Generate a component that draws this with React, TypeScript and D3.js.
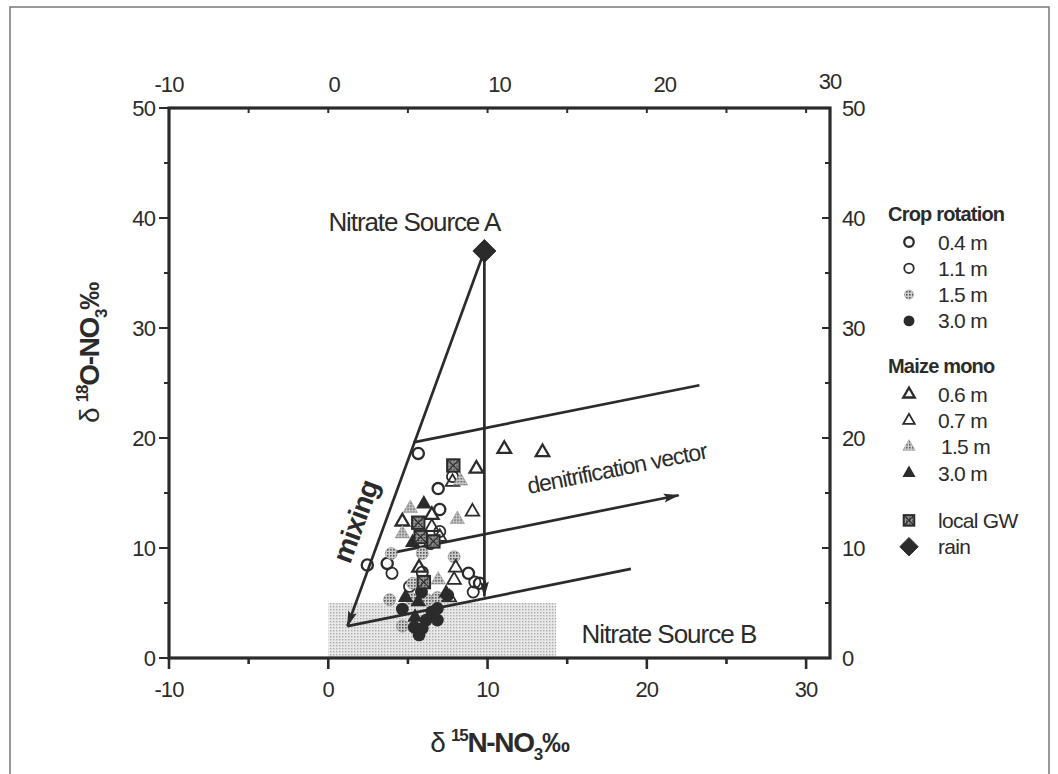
import React from 'react'
import * as d3 from 'd3'

const W = 1058
const H = 774
const INK = '#2b2b2b'
const FONT = '"Liberation Sans", Arial, sans-serif'

// axis ticks
const xBottomTicks = [-10, 0, 10, 20, 30]
const xBottomMinor = [-5, 5, 15, 25]
const xTopTicks = [-10, 0, 10, 20, 30]
const yTicks = [0, 10, 20, 30, 40, 50]
const yMinor = [5, 15, 25, 35, 45]

// samples: [d15N, d18O]
const crop04 = [[5.65, 18.6], [6.9, 15.4], [7.0, 13.5], [2.45, 8.45], [3.7, 8.6], [8.8, 7.7], [9.5, 6.8]]
const crop11 = [[7.8, 16.5], [7.0, 11.5], [6.4, 10.4], [4.0, 7.7], [5.9, 7.8], [5.1, 6.5], [9.2, 6.9], [9.1, 6.0]]
const crop15 = [[3.95, 9.5], [5.9, 9.5], [7.9, 9.2], [5.3, 6.8], [3.85, 5.3], [5.2, 5.4], [6.2, 5.3], [6.85, 5.5], [4.65, 2.9]]
const crop30 = [[5.85, 6.0], [4.65, 4.45], [7.5, 5.7], [6.5, 4.2], [6.85, 4.5], [6.15, 3.45], [6.85, 3.45], [5.4, 2.8], [5.9, 2.7], [5.7, 2.1]]
const maize06 = [[11.05, 19.0], [13.45, 18.7], [9.3, 17.2], [6.5, 13.0], [4.65, 12.4], [5.7, 8.2]]
const maize07 = [[7.8, 16.0], [6.5, 11.9], [9.05, 13.3], [8.0, 8.2], [7.9, 7.1], [7.6, 5.5], [7.0, 11.0]]
const maize15 = [[5.15, 13.6], [4.65, 11.3], [8.1, 12.6], [8.3, 16.1], [6.9, 7.1]]
const maize30 = [[6.0, 14.0], [5.3, 10.5], [4.85, 5.5], [5.65, 5.1], [5.45, 3.7], [7.4, 5.9]]
const localGW = [[7.85, 17.5], [5.65, 12.3], [5.8, 11.0], [6.6, 10.6], [6.0, 6.9]]
const rain = [[9.8, 37]]

// interpretation lines
const mixingLine = [[9.8, 37], [1.2, 2.9]]
const dropLine = [[9.8, 37], [9.8, 5.6]]
const upperLine = [[5.34, 19.6], [23.3, 24.8]]
const denitLine = [[4.15, 9.6], [22.0, 14.8]]
const lowerLine = [[1.2, 2.9], [19.0, 8.1]]
const sourceBBox = [[0, 0], [14.3, 5]]

const series = [
  { data: crop04, kind: 'circleBold' },
  { data: crop11, kind: 'circle' },
  { data: crop15, kind: 'circleDots' },
  { data: crop30, kind: 'circleFill' },
  { data: maize06, kind: 'triBold' },
  { data: maize07, kind: 'tri' },
  { data: maize15, kind: 'triDots' },
  { data: maize30, kind: 'triFill' },
  { data: localGW, kind: 'gw' },
  { data: rain, kind: 'diamond' },
]

const legendGroups = [
  { title: 'Crop rotation', items: [['circleBold', '0.4 m'], ['circle', '1.1 m'], ['circleDots', '1.5 m'], ['circleFill', '3.0 m']] },
  { title: 'Maize mono', items: [['triBold', '0.6 m'], ['tri', '0.7 m'], ['triDots', '1.5 m'], ['triFill', '3.0 m']] },
  { title: null, items: [['gw', 'local GW'], ['diamond', 'rain']] },
]

function triPath(s) {
  const h = s * 0.866
  return `M0,${-2 * h / 3}L${s / 2},${h / 3}L${-s / 2},${h / 3}Z`
}

function Mark({ kind, cx, cy, k = 1 }) {
  const t = `translate(${cx},${cy})`
  switch (kind) {
    case 'circleBold':
      return <circle cx={cx} cy={cy} r={5.6 * k} fill="none" stroke={INK} strokeWidth={2.3} />
    case 'circle':
      return <circle cx={cx} cy={cy} r={5.6 * k} fill="none" stroke={INK} strokeWidth={1.8} />
    case 'circleDots':
      return <circle cx={cx} cy={cy} r={6 * k} fill="url(#dots)" stroke="#888" strokeWidth={0.6} />
    case 'circleFill':
      return <circle cx={cx} cy={cy} r={6.4 * k} fill={INK} />
    case 'triBold':
      return <path transform={t} d={triPath(13.5 * k)} fill="none" stroke={INK} strokeWidth={2.3} />
    case 'tri':
      return <path transform={t} d={triPath(13.5 * k)} fill="none" stroke={INK} strokeWidth={1.8} />
    case 'triDots':
      return <path transform={t} d={triPath(14.5 * k)} fill="url(#dots)" stroke="#999" strokeWidth={0.6} />
    case 'triFill':
      return <path transform={t} d={triPath(15.5 * k)} fill={INK} />
    case 'gw': {
      const s = 6.2 * k
      return (
        <g transform={t}>
          <rect x={-s} y={-s} width={2 * s} height={2 * s} fill="url(#dotsDark)" stroke={INK} strokeWidth={2} />
          <path d={`M${-s},${-s}L${s},${s}M${s},${-s}L${-s},${s}`} stroke={INK} strokeWidth={1.2} />
        </g>
      )
    }
    case 'diamond': {
      const s = 11.5 * k
      return <path transform={t} d={`M0,${-s}L${s},0L0,${s}L${-s},0Z`} fill={INK} stroke={INK} strokeWidth={1} />
    }
    default:
      return null
  }
}

export default function App() {
  const x = d3.scaleLinear().domain([-10, 31.5]).range([169, 830])
  const xTop = d3.scaleLinear().domain([-10, 30]).range([169, 830])
  const y = d3.scaleLinear().domain([0, 50]).range([658, 108])
  const line = d3.line().x((d) => x(d[0])).y((d) => y(d[1]))

  const angleOf = (seg) =>
    (Math.atan2(y(seg[1][1]) - y(seg[0][1]), x(seg[1][0]) - x(seg[0][0])) * 180) / Math.PI
  const mixAngle = angleOf([mixingLine[1], mixingLine[0]])
  const denitAngle = angleOf(upperLine)

  const [x0, x1] = x.range()
  const [yb, yt] = y.range()

  const mixPos = [x(1.76), y(12.4)]
  const denitPos = [x(12.6), y(14.9)]

  const tick = { fontSize: 22, letterSpacing: -0.9, fill: INK }

  let ly = 221
  const legendRows = []
  legendGroups.forEach((g, gi) => {
    if (g.title) {
      legendRows.push(
        <text key={`t${gi}`} x={888} y={ly} fontSize={20} fontWeight="bold" letterSpacing={-0.8} fill={INK}>
          {g.title}
        </text>
      )
      ly += 21
    } else {
      ly -= 5
    }
    g.items.forEach(([kind, label], ii) => {
      legendRows.push(
        <g key={`i${gi}-${ii}`}>
          <Mark kind={kind} cx={909} cy={ly} k={kind === 'diamond' ? 0.8 : kind === 'circleDots' ? 0.75 : 0.85} />
          <text x={kind === 'triDots' ? 941 : 938} y={ly + 7.5} fontSize={21} letterSpacing={-0.7} fill={INK}>
            {label}
          </text>
        </g>
      )
      ly += 26.3
    })
    ly += 26
  })

  return (
    <svg
      width={W}
      height={H}
      style={{ position: 'absolute', left: 0, top: 0, background: '#fff', fontFamily: FONT }}
    >
      <defs>
        <pattern id="dots" width="3" height="3" patternUnits="userSpaceOnUse">
          <rect width="3" height="3" fill="#cfcfcf" />
          <rect width="1.6" height="1.6" fill="#555" />
        </pattern>
        <pattern id="dotsDark" width="3" height="3" patternUnits="userSpaceOnUse">
          <rect width="3" height="3" fill="#999" />
          <rect width="1.5" height="1.5" fill="#333" />
        </pattern>
        <pattern id="shade" width="3" height="3" patternUnits="userSpaceOnUse">
          <rect width="3" height="3" fill="#e8e8e8" />
          <rect width="1.4" height="1.4" fill="#adadad" />
        </pattern>
        <marker id="arrow" viewBox="0 0 16 10" refX="15" refY="5" markerWidth="16" markerHeight="10" markerUnits="userSpaceOnUse" orient="auto">
          <path d="M0,0.5L16,5L0,9.5L3,5Z" fill={INK} />
        </marker>
      </defs>

      <rect x={10} y={7} width={1039} height={800} fill="none" stroke="#777" strokeWidth={1.5} />

      {/* Nitrate source B field */}
      <rect
        x={x(sourceBBox[0][0])}
        y={y(sourceBBox[1][1])}
        width={x(sourceBBox[1][0]) - x(sourceBBox[0][0])}
        height={y(sourceBBox[0][1]) - y(sourceBBox[1][1])}
        fill="url(#shade)"
      />

      <g fill="none" stroke={INK} strokeWidth={2.7}>
        <path d={line(mixingLine)} markerEnd="url(#arrow)" />
        <path d={line(dropLine)} markerEnd="url(#arrow)" />
        <path d={line(upperLine)} />
        <path d={line(denitLine)} markerEnd="url(#arrow)" />
        <path d={line(lowerLine)} />
      </g>

      {series.map((s, si) =>
        s.data.map((d, i) => <Mark key={`${si}-${i}`} kind={s.kind} cx={x(d[0])} cy={y(d[1])} />)
      )}

      {/* frame */}
      <rect x={x0} y={yt} width={x1 - x0} height={yb - yt} fill="none" stroke={INK} strokeWidth={3.2} />

      {/* bottom axis */}
      {xBottomTicks.map((t) => (
        <g key={`xb${t}`}>
          <line x1={x(t)} x2={x(t)} y1={yb} y2={yb + 11} stroke={INK} strokeWidth={2.6} />
          <text x={x(t)} y={697} textAnchor="middle" {...tick}>
            {t}
          </text>
        </g>
      ))}
      {xBottomMinor.map((t) => (
        <line key={`xbm${t}`} x1={x(t)} x2={x(t)} y1={yb} y2={yb + 6} stroke={INK} strokeWidth={2.6} />
      ))}
      {/* top axis */}
      {xBottomMinor.concat(xBottomTicks).map((t) => (
        <line key={`xt${t}`} x1={x(t)} x2={x(t)} y1={yt} y2={yt + 5} stroke={INK} strokeWidth={2} />
      ))}
      {xTopTicks.map((t, i) => (
        <text key={`xtl${t}`} x={xTop(t)} y={i === xTopTicks.length - 1 ? 89 : 92} textAnchor="middle" {...tick}>
          {t}
        </text>
      ))}

      {/* left & right axes */}
      {yTicks.map((t) => (
        <g key={`y${t}`}>
          <line x1={x0 - 10} x2={x0} y1={y(t)} y2={y(t)} stroke={INK} strokeWidth={2} />
          <line x1={x1 - 8} x2={x1} y1={y(t)} y2={y(t)} stroke={INK} strokeWidth={2} />
          <text x={155} y={y(t) + 8} textAnchor="end" {...tick}>
            {t}
          </text>
          <text x={842} y={y(t) + 8} textAnchor="start" {...tick}>
            {t}
          </text>
        </g>
      ))}
      {yMinor.map((t) => (
        <g key={`ym${t}`}>
          <line x1={x0 - 5} x2={x0} y1={y(t)} y2={y(t)} stroke={INK} strokeWidth={2} />
          <line x1={x1 - 5} x2={x1} y1={y(t)} y2={y(t)} stroke={INK} strokeWidth={2} />
        </g>
      ))}

      {/* annotations */}
      <text x={x(5.4)} y={y(38.8)} fontSize={26} textAnchor="middle" letterSpacing={-1.1} fill={INK}>
        Nitrate Source A
      </text>
      <text x={x(15.9)} y={y(1.36)} fontSize={26} letterSpacing={-1} fill={INK}>
        Nitrate Source B
      </text>
      <text
        transform={`translate(${mixPos[0]},${mixPos[1]}) rotate(${mixAngle})`}
        fontSize={28}
        fontWeight="bold"
        textAnchor="middle"
        dy={9}
        letterSpacing={-0.8}
        fill={INK}
      >
        mixing
      </text>
      <text
        transform={`translate(${denitPos[0]},${denitPos[1]}) rotate(${denitAngle})`}
        fontSize={23}
        letterSpacing={-1}
        fill={INK}
      >
        denitrification vector
      </text>

      {/* axis titles */}
      <text x={(x0 + x1) / 2} y={752} textAnchor="middle" fill={INK} fontSize={28} fontWeight="bold" letterSpacing={-1.3}>
        <tspan fontWeight="normal">δ </tspan>
        <tspan fontSize={17} dy={-11}>15</tspan>
        <tspan dy={11}>N-NO</tspan>
        <tspan fontSize={17} dy={8}>3</tspan>
        <tspan dy={-8}>‰</tspan>
      </text>
      <text
        transform={`translate(99,${(yb + yt) / 2 - 30}) rotate(-90)`}
        textAnchor="middle"
        fill={INK}
        fontSize={28}
        fontWeight="bold"
        letterSpacing={-1.3}
      >
        <tspan fontWeight="normal">δ </tspan>
        <tspan fontSize={17} dy={-11}>18</tspan>
        <tspan dy={11}>O-NO</tspan>
        <tspan fontSize={17} dy={8}>3</tspan>
        <tspan dy={-8}>‰</tspan>
      </text>

      {legendRows}
    </svg>
  )
}
